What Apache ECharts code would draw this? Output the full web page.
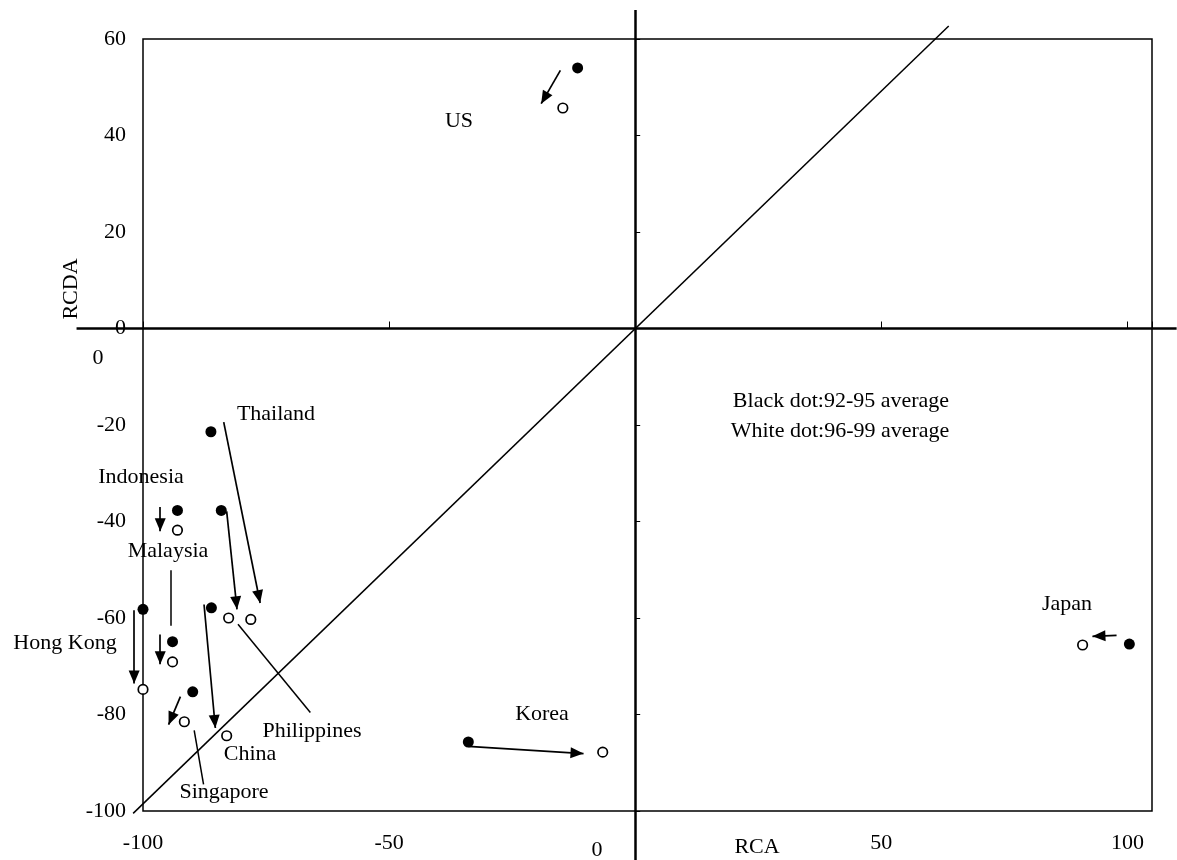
<!DOCTYPE html>
<html>
<head>
<meta charset="utf-8">
<script src="https://cdn.jsdelivr.net/npm/echarts@6/dist/echarts.min.js"></script>
<style>
  html, body { margin: 0; padding: 0; background: #fff; }
  #chart { width: 1177px; height: 860px; }
</style>
</head>
<body>
<div id="chart"></div>
<script>
// Country positions on the RCA / RCDA plane
const countries = ['US', 'Thailand', 'Indonesia', 'Philippines', 'Malaysia', 'Hong Kong', 'China', 'Singapore', 'Korea', 'Japan'];
// 1992-95 averages (black dots)
const rca9295  = [-11.7, -86.2, -93.0, -84.1, -94.0, -100.0, -86.1, -89.9, -33.9, 100.4];
const rcda9295 = [ 54.0, -21.4, -37.7, -37.7, -64.9,  -58.2, -57.9, -75.3, -85.7, -65.4];
// 1996-99 averages (white dots)
const rca9699  = [-14.7, -78.1, -93.0, -82.6, -94.0, -100.0, -83.0, -91.6,  -6.6,  90.9];
const rcda9699 = [ 45.7, -60.3, -41.8, -60.0, -69.1,  -74.8, -84.4, -81.5, -87.8, -65.6];

// Movement arrows (tail -> head), one per country, same order as above
const arrowFrom = [[-15.2, 53.5], [-83.6, -19.4], [-96.5, -37.0], [-83.0, -37.9], [-96.5, -63.4],
                   [-101.8, -58.4], [-87.6, -57.2], [-92.4, -76.3], [-33.9, -86.6], [97.8, -63.6]];
const arrowTo   = [[-19.1, 46.6], [-76.2, -56.9], [-96.5, -42.0], [-80.9, -58.2], [-96.5, -69.6],
                   [-101.8, -73.6], [-85.3, -82.8], [-94.8, -82.1], [-10.5, -88.1], [92.9, -63.8]];

// Leader lines tying a few labels to their dots
const leaderFrom = [[-94.4, -50.1], [-89.6, -83.3], [-80.7, -61.3]];
const leaderTo   = [[-94.4, -61.6], [-87.7, -94.5], [-66.0, -79.6]];

// 45-degree reference line (RCA = RCDA)
const diagonalLine = [[-102, -100.5], [63.7, 62.7]];

// Axis ticks
const xTickLabels = [-100, -50, 50, 100];
const yTickLabels = [60, 40, 20, 0, -20, -40, -60, -80, -100];
const X_MIN = -100, X_MAX = 105, X_STEP = 50;
const Y_MIN = -100, Y_MAX = 60, Y_STEP = 20;

const FONT = "'Liberation Serif', 'Times New Roman', serif";
const FS = 22;

// Text placement (pixels)
const labelLayout = [
  ['US', 459, 121], ['Thailand', 276, 414], ['Indonesia', 141, 477], ['Malaysia', 168, 551],
  ['Hong Kong', 65, 643], ['Philippines', 312, 731], ['China', 250, 754], ['Singapore', 224, 792],
  ['Korea', 542, 714], ['Japan', 1067, 604],
  ['Black dot:92-95 average', 841, 401], ['White dot:96-99 average', 840, 431],
  ['0', 98, 358], ['0', 597, 850], ['RCA', 757, 847]
];

const blackPts = rca9295.map((x, i) => [x, rcda9295[i], countries[i]]);
const whitePts = rca9699.map((x, i) => [x, rcda9699[i], countries[i]]);
const arrows = arrowFrom.map((p, i) => ({ coords: [p, arrowTo[i]] }));
const leaders = leaderFrom.map((p, i) => ({ coords: [p, leaderTo[i]] }));

// Arrowhead whose tip sits at the segment end (lower half of a square box)
const HEAD = 'path://M0,13 L5.5,26 L-5.5,26 Z M-13,0 M13,0';

const chart = echarts.init(document.getElementById('chart'), null, { renderer: 'canvas' });

const valueAxisBase = {
  type: 'value',
  splitLine: { show: false },
};

chart.setOption({
  animation: false,
  backgroundColor: '#fff',
  grid: {
    left: 143, top: 39, width: 1009, height: 772,
    show: true, borderColor: '#000', borderWidth: 1.5,
    backgroundColor: 'transparent',
    containLabel: false, outerBoundsMode: 'none'
  },
  xAxis: [
    Object.assign({}, valueAxisBase, {
      position: 'bottom', min: X_MIN, max: X_MAX, interval: X_STEP,
      axisLine: { show: false, onZero: false },
      axisTick: { show: false },
      axisLabel: {
        margin: 21, color: '#000', fontFamily: FONT, fontSize: FS,
        formatter: v => (xTickLabels.indexOf(v) >= 0 ? String(v) : '')
      }
    }),
    Object.assign({}, valueAxisBase, {
      position: 'bottom', min: X_MIN, max: X_MAX, interval: X_STEP,
      axisLine: { show: false, onZero: true },
      axisTick: { show: true, inside: true, length: 7, lineStyle: { color: '#000', width: 1 } },
      axisLabel: { show: false }
    })
  ],
  yAxis: [
    Object.assign({}, valueAxisBase, {
      position: 'left', min: Y_MIN, max: Y_MAX, interval: Y_STEP,
      axisLine: { show: false, onZero: false },
      axisTick: { show: false },
      axisLabel: {
        margin: 17, color: '#000', fontFamily: FONT, fontSize: FS,
        formatter: v => (yTickLabels.indexOf(v) >= 0 ? String(v) : '')
      }
    }),
    Object.assign({}, valueAxisBase, {
      position: 'left', min: Y_MIN, max: Y_MAX, interval: Y_STEP,
      axisLine: { show: false, onZero: true },
      axisTick: { show: true, inside: true, length: 5, lineStyle: { color: '#000', width: 1 } },
      axisLabel: { show: false }
    })
  ],
  series: [
    {
      // zero lines of both axes, running past the frame
      name: 'axes',
      type: 'lines', coordinateSystem: 'cartesian2d', xAxisIndex: 0, yAxisIndex: 0,
      clip: false, silent: true, symbol: 'none',
      lineStyle: { color: '#000', width: 2.5, opacity: 1, curveness: 0 },
      data: [
        { coords: [[-113.5, 0], [110, 0]] },
        { coords: [[0, 66], [0, -110.5]] }
      ],
      z: 2
    },
    {
      name: 'diagonal',
      type: 'lines', coordinateSystem: 'cartesian2d', xAxisIndex: 0, yAxisIndex: 0,
      clip: false, silent: true, symbol: 'none',
      lineStyle: { color: '#000', width: 1.5, opacity: 1, curveness: 0 },
      data: [{ coords: diagonalLine }],
      z: 2
    },
    {
      name: 'leaders',
      type: 'lines', coordinateSystem: 'cartesian2d', xAxisIndex: 0, yAxisIndex: 0,
      clip: false, silent: true, symbol: 'none',
      lineStyle: { color: '#000', width: 1.5, opacity: 1, curveness: 0 },
      data: leaders,
      z: 3
    },
    {
      name: 'shift',
      type: 'lines', coordinateSystem: 'cartesian2d', xAxisIndex: 0, yAxisIndex: 0,
      clip: false, silent: true,
      symbol: ['none', HEAD], symbolSize: [0, 26],
      lineStyle: { color: '#000', width: 1.7, opacity: 1, curveness: 0 },
      data: arrows,
      z: 3
    },
    {
      name: '92-95 average',
      type: 'scatter', xAxisIndex: 0, yAxisIndex: 0, clip: false,
      symbol: 'circle', symbolSize: 11,
      itemStyle: { color: '#000', opacity: 1 },
      data: blackPts,
      z: 5
    },
    {
      name: '96-99 average',
      type: 'scatter', xAxisIndex: 0, yAxisIndex: 0, clip: false,
      symbol: 'circle', symbolSize: 9.5,
      itemStyle: { color: '#fff', borderColor: '#000', borderWidth: 1.7, opacity: 1 },
      data: whitePts,
      z: 5
    }
  ],
  graphic: labelLayout.map(([t, x, y]) => ({
    type: 'text', x: x, y: y, z: 10, silent: true,
    style: { text: t, fill: '#000', font: FS + 'px ' + FONT, textAlign: 'center', textVerticalAlign: 'middle' }
  })).concat([{
    type: 'text', x: 71, y: 289, rotation: Math.PI / 2, z: 10, silent: true,
    style: { text: 'RCDA', fill: '#000', font: FS + 'px ' + FONT, textAlign: 'center', textVerticalAlign: 'middle' }
  }])
});
</script>
</body>
</html>
